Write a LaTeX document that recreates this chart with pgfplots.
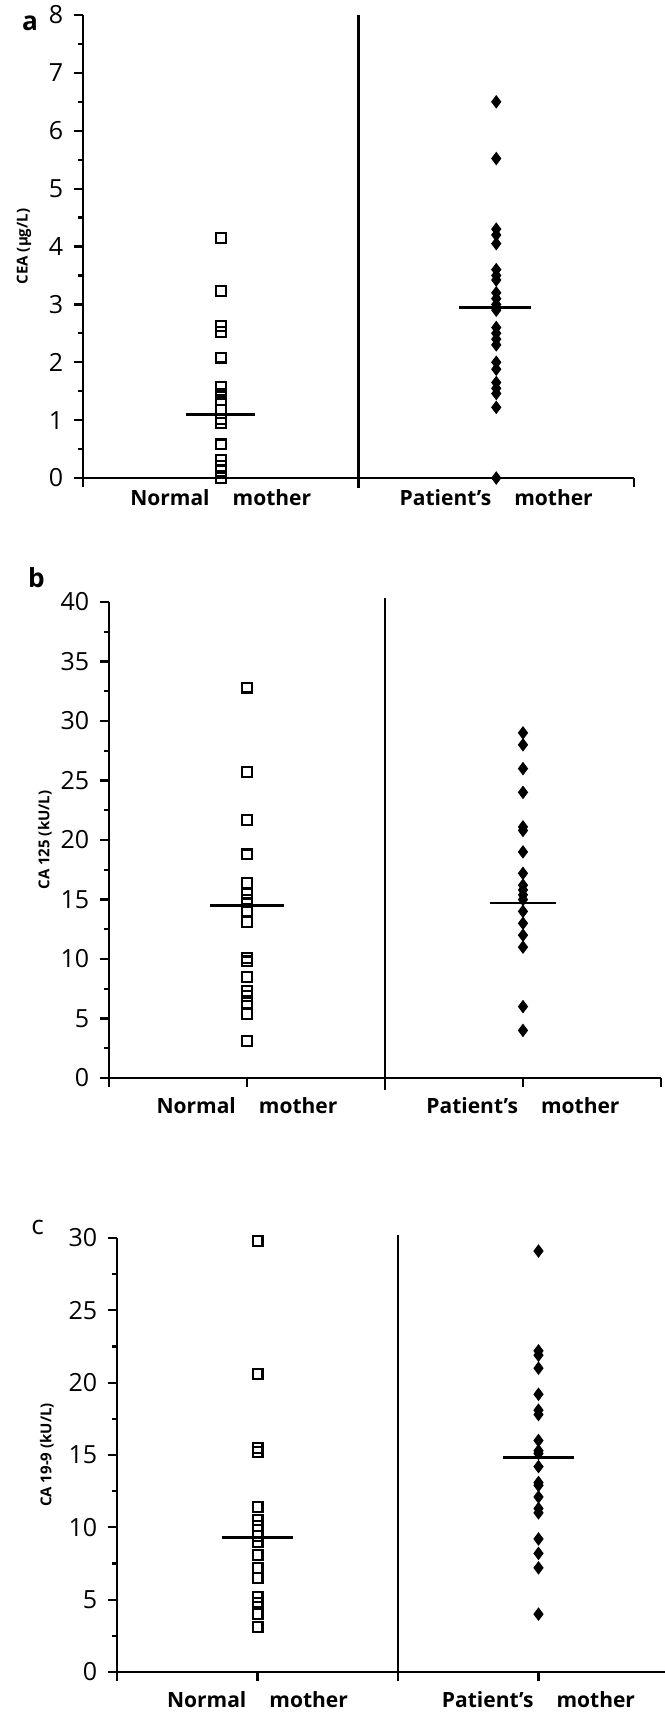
\documentclass[border=0pt]{standalone}
\usepackage{fontspec}
\setmainfont{Open Sans}
\usepackage{pgfplots}
\pgfplotsset{compat=1.18}

% 1 px of the reference = 0.4pt
\pgfplotsset{
  panel/.style={
    scale only axis, clip=false,
    axis x line*=bottom, axis y line*=left,
    axis line style={-, line width=1pt},
    tick align=outside, tick style={line width=0.9pt, black},
    major tick length=3.4pt, minor tick length=2pt,
    minor y tick num=1,
    xmin=0, xmax=4,
    /pgf/number format/assume math mode=true,
    yticklabel style={font=\fontsize{10}{10}\selectfont, xshift=-1pt},
    xticklabel style={font=\bfseries\fontsize{8.4}{10}\selectfont, yshift=-1pt},
  },
  ylab/.style={every axis y label/.style={at={(axis description cs:#1,0.5)}, rotate=90, anchor=center,
    font=\bfseries\fontsize{6}{6}\selectfont}},
  normal/.style={only marks, mark=square, mark size=1.95pt, mark options={line width=0.9pt, fill=white}},
  patient/.style={only marks, mark=diamond*, mark size=2.4pt, black},
  med/.style={line width=1.1pt, no marks},
}
\newcommand{\catlabels}{{},{Normal\hspace{1.1em}mother},{},{Patient's\hspace{1.1em}mother},{}}

\begin{document}
\begin{tikzpicture}
\useasboundingbox (0,0) rectangle (265.6pt,-688pt);

% ---------- a: CEA ----------
\begin{axis}[panel, at={(33.2pt,-191.2pt)}, anchor=south west,
  width=220.4pt, height=185.2pt,
  ymin=0, ymax=8, ytick={0,...,8},
  xtick={0,2,4}, xticklabels={},
  extra x ticks={1,3}, extra x tick labels={{Normal\hspace{1.1em}mother},{Patient's\hspace{1.1em}mother}},
  extra x tick style={grid=none, major tick length=0pt},
  ylab=-0.107, ylabel={CEA (µg/L)}]
\addplot[normal] coordinates {(1,4.15)(1,3.23)(1,2.63)(1,2.52)(1,2.08)(1,1.58)(1,1.46)(1,1.34)(1,1.18)(1,1.02)(1,0.95)(1,0.58)(1,0.31)(1,0.21)(1,0.12)(1,0)};
\addplot[patient] coordinates {(3,6.5)(3,5.52)(3,4.3)(3,4.2)(3,4.05)(3,3.6)(3,3.5)(3,3.42)(3,3.2)(3,3.1)(3,3.0)(3,2.9)(3,2.6)(3,2.5)(3,2.4)(3,2.3)(3,2.0)(3,1.88)(3,1.65)(3,1.55)(3,1.46)(3,1.22)(3,0)};
\addplot[med] coordinates {(0.75,1.1)(1.25,1.1)};
\addplot[med] coordinates {(2.73,2.95)(3.25,2.95)};
\draw[line width=1pt] (axis cs:2,8) -- (axis cs:2,-0.17);
\end{axis}
\node[font=\bfseries\fontsize{10.5}{11}\selectfont] at (12pt,-9.4pt) {a};

% ---------- b: CA 125 ----------
\begin{axis}[panel, at={(43.6pt,-431.2pt)}, anchor=south west,
  width=220.8pt, height=190.4pt,
  ymin=0, ymax=40, ytick={0,5,...,40},
  xtick={0,...,4}, xticklabels/.expand once=\catlabels,
  ylab=-0.116, ylabel={CA 125 (kU/L)}]
\addplot[normal] coordinates {(1,32.8)(1,25.7)(1,21.7)(1,18.8)(1,16.4)(1,15.5)(1,15.0)(1,14.0)(1,13.1)(1,10.1)(1,9.8)(1,8.5)(1,7.3)(1,6.9)(1,6.3)(1,5.4)(1,3.1)};
\addplot[patient] coordinates {(3,29.0)(3,28.0)(3,26.0)(3,24.0)(3,21.1)(3,20.8)(3,19.0)(3,17.2)(3,16.2)(3,15.8)(3,15.4)(3,15.0)(3,14.0)(3,13.0)(3,12.0)(3,11.0)(3,6.0)(3,4.0)};
\addplot[med] coordinates {(0.73,14.5)(1.27,14.5)};
\addplot[med] coordinates {(2.76,14.7)(3.24,14.7)};
\draw[line width=1pt] (axis cs:2,40.3) -- (axis cs:2,-1.0);
\end{axis}
\node[font=\bfseries\fontsize{10.5}{11}\selectfont] at (14.6pt,-231pt) {b};

% ---------- c: CA 19-9 ----------
\begin{axis}[panel, at={(46.8pt,-668.8pt)}, anchor=south west,
  width=224.8pt, height=173.6pt,
  ymin=0, ymax=30, ytick={0,5,...,30},
  xtick={0,...,4}, xticklabels/.expand once=\catlabels,
  ylab=-0.125, ylabel={CA 19-9 (kU/L)}]
\addplot[normal] coordinates {(1,29.8)(1,20.6)(1,15.5)(1,15.2)(1,11.4)(1,10.5)(1,10.1)(1,9.4)(1,9.0)(1,8.1)(1,7.2)(1,6.5)(1,5.2)(1,4.8)(1,4.0)(1,3.1)};
\addplot[patient] coordinates {(3,29.1)(3,22.2)(3,21.9)(3,21.0)(3,19.2)(3,18.1)(3,17.8)(3,16.0)(3,15.3)(3,15.1)(3,14.2)(3,13.1)(3,12.9)(3,12.1)(3,11.3)(3,11.0)(3,9.2)(3,8.2)(3,7.2)(3,4.0)};
\addplot[med] coordinates {(0.75,9.3)(1.25,9.3)};
\addplot[med] coordinates {(2.75,14.85)(3.25,14.85)};
\draw[line width=1pt] (axis cs:2,30.23) -- (axis cs:2,-0.35);
\end{axis}
\node[font=\fontsize{10.5}{11}\selectfont] at (15pt,-491pt) {c};
\end{tikzpicture}
\end{document}
